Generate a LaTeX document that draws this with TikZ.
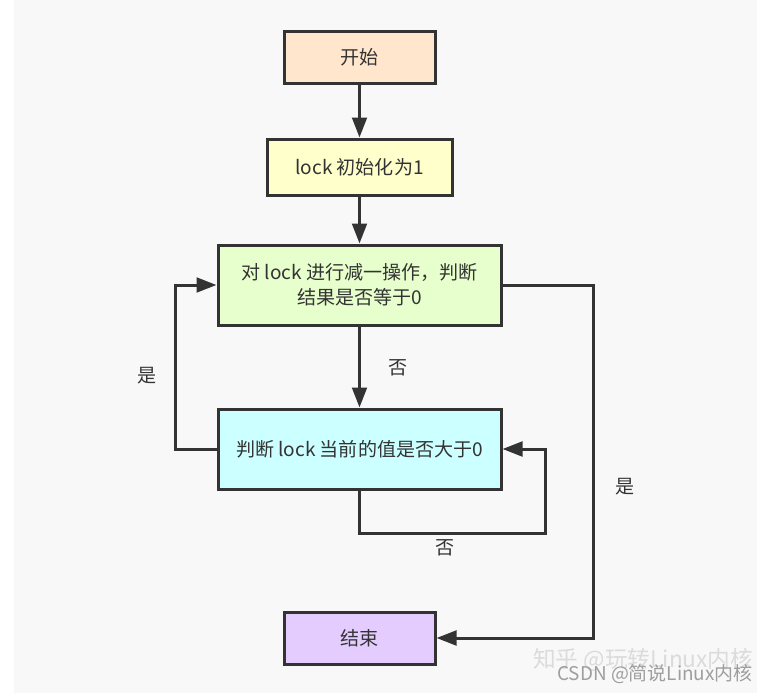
\documentclass[tikz,border=0pt]{standalone}
\usepackage{fontspec}
\setmainfont{Noto Sans CJK SC}
\usetikzlibrary{arrows.meta}
\definecolor{bgc}{HTML}{F8F8F8}
\definecolor{linec}{HTML}{333333}
\definecolor{txtc}{HTML}{333333}
\definecolor{cstart}{HTML}{FFE6CC}
\definecolor{cinit}{HTML}{FFFFCC}
\definecolor{cdec}{HTML}{E6FFCC}
\definecolor{cchk}{HTML}{CCFFFF}
\definecolor{cend}{HTML}{E5CCFF}
\tikzset{
  box/.style={draw=linec, line width=2.25pt, inner sep=0pt, align=center,
    text=txtc, font=\fontsize{14.3}{18.8}\selectfont},
  conn/.style={draw=linec, line width=2.25pt, -{Triangle[length=15pt,width=11pt]}},
  lbl/.style={text=txtc, font=\fontsize{14.3}{18.8}\selectfont, inner sep=0pt},
  wm/.style={inner sep=0pt, anchor=west}
}
\begin{document}
\begin{tikzpicture}[x=0.75pt, y=-0.75pt]
\useasboundingbox (0,0) rectangle (770,693);
\fill[white] (0,0) rectangle (770,693);
\fill[bgc] (14,0) rectangle (757,693);

\node[box, fill=cstart, minimum width=151*0.75pt, minimum height=52*0.75pt] (start) at (359.5,57) {开始};
\node[box, fill=cinit, minimum width=185*0.75pt, minimum height=56*0.75pt] (init) at (359.5,167) {lock 初始化为1};
\node[box, fill=cdec, minimum width=283*0.75pt, minimum height=80*0.75pt] (dec) at (359.5,285) {对 lock 进行减一操作，判断\\结果是否等于0};
\node[box, fill=cchk, minimum width=283*0.75pt, minimum height=80*0.75pt] (chk) at (359.5,449) {判断 lock 当前的值是否大于0};
\node[box, fill=cend, minimum width=151*0.75pt, minimum height=52*0.75pt] (end) at (359.5,638) {结束};

\coordinate (leftx) at (175,0);
\coordinate (rightx) at (593,0);
\coordinate (loop) at (545,533);

\draw[conn] (start) -- (init);
\draw[conn] (init) -- (dec);
\draw[conn] (dec) -- (chk);
\draw[conn] (chk.west) -- (chk.west -| leftx) -- (dec.west -| leftx) -- (dec.west);
\draw[conn] (dec.east) -- (dec.east -| rightx) |- (end.east);
\draw[conn] (chk.south) |- (loop) |- (chk.east);

\node[lbl] (l1) at (398,368) {否};
\node[lbl] (l2) at (147,376) {是};
\node[lbl] (l3) at (445,548) {否};
\node[lbl] (l4) at (625,487) {是};

\node[wm, text=black!14, font=\fontsize{17}{17}\selectfont] (wm1) at (533,660) {知乎 @玩转Linux内核};
\node[wm, text=black!38, font=\fontsize{14.2}{14.2}\selectfont] (wm2) at (557,674) {CSDN @简说Linux内核};
\end{tikzpicture}
\end{document}
